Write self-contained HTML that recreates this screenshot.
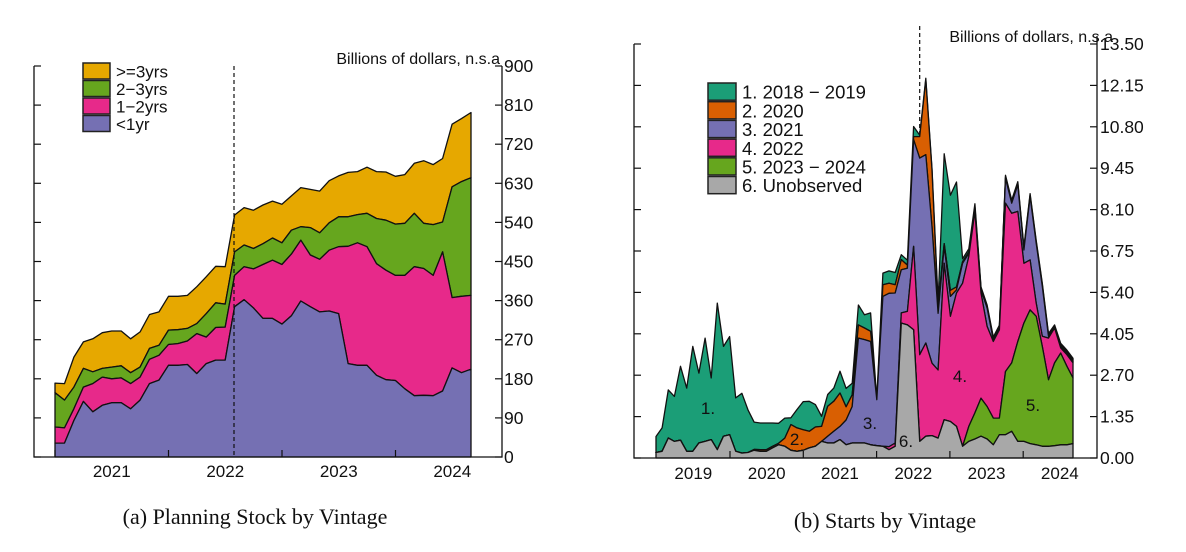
<!DOCTYPE html>
<html><head><meta charset="utf-8"><style>
body{margin:0;background:#fff;width:1186px;height:547px;overflow:hidden}
svg text{font-family:"Liberation Sans",sans-serif;fill:#111}
.cap{font-family:"Liberation Serif",serif;font-size:22px}
</style></head><body>
<svg id="s" width="1186" height="547">
<g id="A"></g>
<g id="B"></g>
<text class="cap" x="255" y="524" text-anchor="middle">(a) Planning Stock by Vintage</text>
<text class="cap" x="885" y="528" text-anchor="middle">(b) Starts by Vintage</text>
</svg>
<script>
// Chart A cumulative tops (billions)
const aLt1=[32,32,84,128,104,119,125,125,111,131,169,177,211,211,213,192,215,223,223,346,362,343,319,319,306,325,359,346,334,336,330,215,211,211,188,178,176,157,141,142,141,152,205,194,202];
const a1to2=[69,67,111,161,169,184,180,182,169,184,225,234,259,261,267,284,276,298,299,418,438,433,443,453,443,467,499,465,455,476,484,485,493,484,445,430,418,418,438,434,418,472,367,370,372];
const a2to3=[148,131,161,204,196,204,207,210,194,207,250,257,292,293,296,307,330,355,352,472,488,480,491,504,493,522,530,528,516,539,553,553,558,561,549,545,536,538,561,538,535,541,622,634,643];
const aGe3=[170,169,230,265,272,286,290,290,272,288,328,334,370,370,372,392,415,439,438,557,574,568,580,589,582,601,620,616,612,636,647,655,657,667,657,656,646,650,676,682,673,687,766,779,793];
const aTicks=[0,90,180,270,360,450,540,630,720,810,900];
const aYears=["2021","2022","2023","2024"];
// Chart B layer values (billions)
const bGrey=[0.18,0.22,0.65,0.54,0.58,0.22,0.22,0.49,0.54,0.60,0.27,0.71,0.76,0.22,0.16,0.18,0.25,0.22,0.22,0.33,0.43,0.38,0.25,0.22,0.25,0.33,0.38,0.54,0.49,0.49,0.60,0.43,0.49,0.49,0.49,0.43,0.40,0.38,0.27,0.38,4.40,4.34,4.18,0.54,0.71,0.73,0.65,1.25,1.19,1.03,0.38,0.54,0.62,0.71,0.62,0.43,0.76,0.76,0.87,0.54,0.54,0.47,0.43,0.38,0.38,0.40,0.43,0.43,0.47];
const bGreen=[0,0,0,0,0,0,0,0,0,0,0,0,0,0,0,0,0,0,0,0,0,0,0,0,0,0,0,0,0,0,0,0,0,0,0,0,0,0,0,0,0,0,0,0,0,0,0,0,0,0,0,0.49,0.85,1.24,1.06,0.87,0.54,2.06,2.23,3.26,3.86,4.36,4.19,3.26,2.17,2.70,2.99,2.56,2.14];
const bPink=[0,0,0,0,0,0,0,0,0,0,0,0,0,0,0,0,0,0,0,0,0,0,0,0,0,0,0,0,0,0,0,0,0,0,0,0,0,0,0.1,0.11,0.33,0.44,2.72,2.83,3.04,2.36,2.22,5.1,3.43,4.35,5.32,5.54,6.57,3.43,2.61,2.50,2.88,5.49,4.88,4.24,1.95,1.63,0.43,0.33,1.36,1.14,0.17,0.38,0.49];
const bPurple=[0,0,0,0,0,0,0,0,0,0,0,0,0,0,0,0,0,0,0,0,0,0,0,0,0,0,0,0,0.22,0.38,0.43,0.81,1.19,3.42,3.37,3.37,1.50,4.89,5.0,4.89,1.41,1.41,3.48,6.41,6.14,4.45,1.85,0.54,0.65,0.1,0.65,0.1,0.1,0.1,0.6,0.05,0.05,0.81,0.33,0.87,0.43,2.06,1.95,1.63,0.05,0,0.05,0.05,0.05];
const bOrange=[0,0,0,0,0,0,0,0,0,0,0,0,0,0,0,0,0.03,0.05,0.05,0.05,0.05,0.27,0.84,0.76,0.67,0.54,0.63,0.49,0.98,0.98,1.09,0.43,0.38,0.43,0.38,0.33,0,0.38,0.33,0.27,0.33,0.1,0.1,0.7,2.44,1.85,0.22,0.1,0.2,0.1,0.05,0.05,0.05,0.05,0.05,0.05,0.05,0.05,0.05,0.05,0.05,0.05,0.05,0.05,0.05,0.05,0.05,0.05,0.05];
const bTeal=[0.52,0.76,1.57,1.47,2.41,2.06,3.42,2.28,3.37,2.01,4.78,2.93,3.20,1.74,1.95,1.39,0.89,0.87,0.87,0.76,0.65,0.65,0.22,0.60,0.92,0.98,0.73,0.33,0.38,0.43,0.71,0.60,0.38,0.65,0.43,0.60,0.02,0.38,0.40,0.40,0.16,0.16,0.33,0.05,0.05,0.05,0.16,2.93,3.10,3.42,0.1,0.1,0.1,0.05,0.05,0.05,0.05,0.05,0.05,0.05,0.05,0.05,0.05,0.05,0.05,0.05,0.05,0.05,0.05];
const bTicks=[0,1.35,2.70,4.05,5.40,6.75,8.10,9.45,10.80,12.15,13.50];
const bYears=["2019","2020","2021","2022","2023","2024"];

const NS="http://www.w3.org/2000/svg";
function mk(p,t,a){const e=document.createElementNS(NS,t);for(const k in a)e.setAttribute(k,a[k]);p.appendChild(e);return e;}
function area(g,xf,yf,top,bot,fill,name){
  let d="M"+top.map((v,i)=>xf(i).toFixed(1)+","+yf(v).toFixed(1)).join("L");
  for(let i=bot.length-1;i>=0;i--)d+="L"+xf(i).toFixed(1)+","+yf(bot[i]).toFixed(1);
  const p=mk(g,"path",{d:d+"Z",fill:fill,stroke:"#111","stroke-width":1.3,"stroke-linejoin":"round"});
  
  
}
function legend(g,x,y,h,w,items,fs){
  items.forEach((it,k)=>{
    const r=mk(g,"rect",{x:x,y:y+k*h,width:w,height:h-1.5,fill:it[1],stroke:"#222","stroke-width":1.5});
    
    
    const t=mk(g,"text",{x:x+w+6,y:y+k*h+h-3,"font-size":fs});t.textContent=it[0];
    
    
  });
}
// ---- Chart A
(function(){
  const g=document.getElementById("A");
  const L=34,R=502,T=66,B=457,x0=55,x1=471;
  const xf=i=>x0+i*(x1-x0)/(aGe3.length-1), yf=v=>B-v*(B-T)/900;
  const zero=aLt1.map(()=>0);
  area(g,xf,yf,aGe3,a2to3,"#e6a800","area-ge3yrs");
  area(g,xf,yf,a2to3,a1to2,"#66a61e","area-2-3yrs");
  area(g,xf,yf,a1to2,aLt1,"#e7298a","area-1-2yrs");
  area(g,xf,yf,aLt1,zero,"#7570b3","area-lt1yr");
  let dl=mk(g,"line",{x1:234,y1:T,x2:234,y2:B,stroke:"#111","stroke-dasharray":"4,3","stroke-width":1.2});
  
  let ax=mk(g,"path",{d:`M${L},${T}V${B}H${R}V${T}`,fill:"none",stroke:"#111","stroke-width":1.3});
  
  aTicks.forEach(v=>{
    mk(g,"line",{x1:L,x2:L+7,y1:yf(v),y2:yf(v),stroke:"#111","stroke-width":1.2});
    mk(g,"line",{x1:R-7,x2:R,y1:yf(v),y2:yf(v),stroke:"#111","stroke-width":1.2});
    const t=mk(g,"text",{x:R+2,y:yf(v)+6,"font-size":17.5});t.textContent=String(v);
    
  });
  const yw=113.5;
  aYears.forEach((yr,k)=>{
    const xs=x0+k*yw;
    mk(g,"line",{x1:xs,x2:xs,y1:B,y2:B-7,stroke:"#111","stroke-width":1.2});
    const t=mk(g,"text",{x:xs+yw/2,y:477,"font-size":17,"text-anchor":"middle"});t.textContent=yr;
    
  });
  const u=mk(g,"text",{x:500,y:64,"font-size":16,"text-anchor":"end"});u.textContent="Billions of dollars, n.s.a";
  
  legend(g,83,63,17.5,27,[[">=3yrs","#e6a800"],["2\u22123yrs","#66a61e"],["1\u22122yrs","#e7298a"],["<1yr","#7570b3"]],17);
})();
// ---- Chart B
(function(){
  const g=document.getElementById("B");
  const L=634,R=1097,T=44,B=458,x0=656,x1=1073;
  const n=bGrey.length;
  const xf=i=>x0+i*(x1-x0)/(n-1), yf=v=>B-v*(B-T)/13.5;
  const c0=bGrey.map(()=>0);
  const c1=bGrey.slice();
  const c2=c1.map((v,i)=>v+bGreen[i]);
  const c3=c2.map((v,i)=>v+bPink[i]);
  const c4=c3.map((v,i)=>v+bPurple[i]);
  const c5=c4.map((v,i)=>v+bOrange[i]);
  const c6=c5.map((v,i)=>v+bTeal[i]);
  let dl=mk(g,"line",{x1:xf(43),y1:T-18,x2:xf(43),y2:B,stroke:"#111","stroke-dasharray":"4,3","stroke-width":1.2});
  
  area(g,xf,yf,c6,c5,"#1b9e77","area-2018-2019");
  area(g,xf,yf,c5,c4,"#d95f02","area-2020");
  area(g,xf,yf,c4,c3,"#7570b3","area-2021");
  area(g,xf,yf,c3,c2,"#e7298a","area-2022");
  area(g,xf,yf,c2,c1,"#66a61e","area-2023-2024");
  area(g,xf,yf,c1,c0,"#a8a8a8","area-unobserved");
  let ax=mk(g,"path",{d:`M${L},${T}V${B}H${R}V${T-8}`,fill:"none",stroke:"#111","stroke-width":1.3});
  
  bTicks.forEach(v=>{
    mk(g,"line",{x1:L,x2:L+7,y1:yf(v),y2:yf(v),stroke:"#111","stroke-width":1.2});
    mk(g,"line",{x1:R-7,x2:R,y1:yf(v),y2:yf(v),stroke:"#111","stroke-width":1.2});
    const t=mk(g,"text",{x:R+3,y:yf(v)+6,"font-size":17.5});t.textContent=v.toFixed(2);
    
  });
  const yw=73.3, xs0=730-yw;
  bYears.forEach((yr,k)=>{
    const xs=xs0+k*yw;
    if(k>0)mk(g,"line",{x1:xs,x2:xs,y1:B,y2:B-7,stroke:"#111","stroke-width":1.2});
    const t=mk(g,"text",{x:xs+yw/2,y:479,"font-size":17,"text-anchor":"middle"});t.textContent=yr;
    
  });
  const u=mk(g,"text",{x:1113,y:42,"font-size":16,"text-anchor":"end"});u.textContent="Billions of dollars, n.s.a";
  
  [["1.",708,414],["2.",797,445],["3.",870,429],["4.",960,382],["5.",1033,411],["6.",906,447]].forEach(a=>{
    const t=mk(g,"text",{x:a[1],y:a[2],"font-size":17,"text-anchor":"middle"});t.textContent=a[0];
    
  });
  legend(g,708,83,18.7,28,[["1. 2018 \u2212 2019","#1b9e77"],["2. 2020","#d95f02"],["3. 2021","#7570b3"],["4. 2022","#e7298a"],["5. 2023 \u2212 2024","#66a61e"],["6. Unobserved","#a8a8a8"]],18.5);
})();
</script>
</body></html>
